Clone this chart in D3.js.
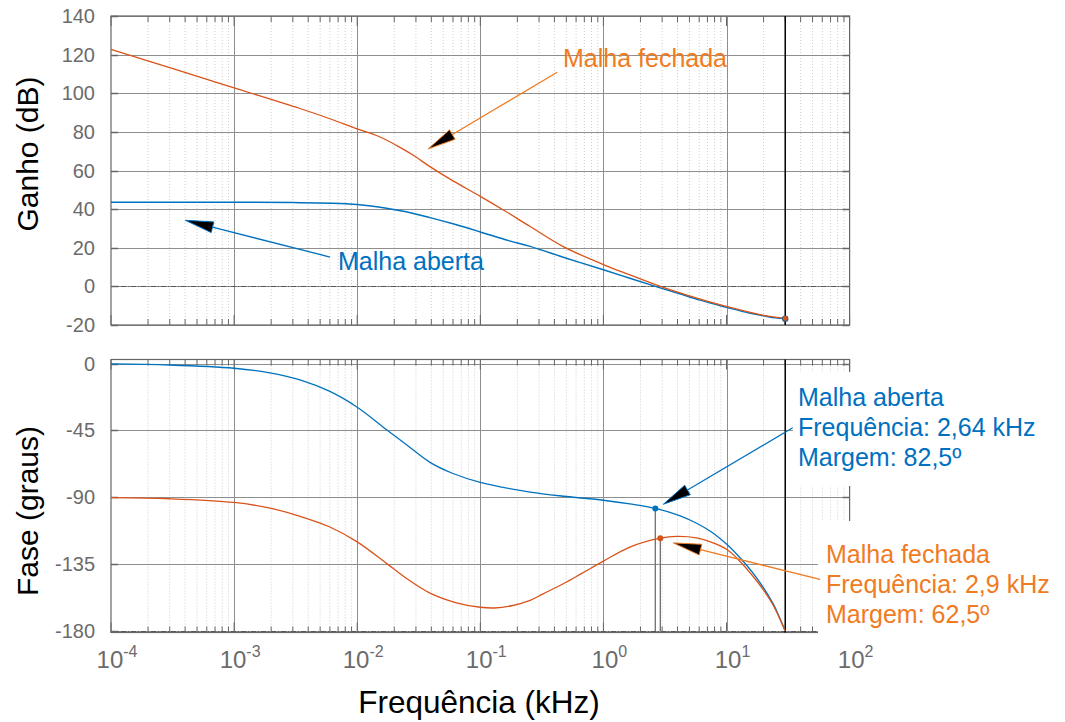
<!DOCTYPE html>
<html>
<head>
<meta charset="utf-8">
<script src="https://cdn.jsdelivr.net/npm/d3@7"></script>
<style>
  body { margin: 0; background: #fff; }
  svg { display: block; font-family: "Liberation Sans", Arial, sans-serif; }
</style>
</head>
<body>
<svg id="chart" width="1065" height="722"></svg>
<script>
// ---- Bode data (frequency in kHz) ----
const openGainFreq = [1e-4, 3e-4, 1e-3, 3e-3, 6e-3, 1e-2, 0.0173, 0.025, 0.039, 0.06, 0.1, 0.17, 0.254, 0.5, 1, 1.64, 2.64, 4.16, 6, 10, 15, 20, 25, 30];
const openGainDb   = [43.6, 43.6, 43.6, 43.4, 43.1, 42.4, 40.5, 38.6, 35.6, 32.4, 28.2, 23.7, 20.7, 14.6, 8.6, 4.2, 0, -3.8, -7.0, -10.8, -13.7, -15.2, -16.3, -16.8];

const closedGainFreq = [1e-4, 3e-4, 1e-3, 3.43e-3, 6e-3, 1e-2, 0.015, 0.021, 0.029, 0.039, 0.06, 0.1, 0.16, 0.254, 0.472, 1, 1.64, 2.9, 5, 10, 20, 30];
const closedGainDb   = [122.7, 113.3, 102.8, 92.1, 86.8, 81.5, 77.6, 72.9, 67.6, 62.0, 54.6, 46.6, 38.9, 31.0, 20.6, 11.3, 6.0, 0, -4.9, -10.4, -15.0, -16.6];

const openPhaseFreq = [1e-4, 3e-4, 1e-3, 2e-3, 3.43e-3, 6e-3, 1e-2, 0.0173, 0.025, 0.039, 0.06, 0.1, 0.254, 0.5, 1, 1.64, 2.64, 4.16, 5.72, 7.6, 10, 12.5, 17.5, 23.9, 27, 30];
const openPhaseDeg  = [-0.3, -1.0, -3.2, -6.4, -11.0, -18.8, -29.4, -44.5, -54.5, -66.5, -74.0, -80.0, -86.5, -89.5, -92.0, -94.5, -97.5, -102.3, -107.5, -113.5, -121.5, -129.5, -144.0, -161.6, -171.0, -180];

const closedPhaseFreq = [1e-4, 3e-4, 1e-3, 2e-3, 3.43e-3, 6e-3, 1e-2, 0.0173, 0.025, 0.039, 0.064, 0.1, 0.13, 0.18, 0.254, 0.324, 0.472, 0.662, 1, 1.64, 2.9, 3.94, 5.72, 7.6, 10, 12.5, 17.5, 20, 23.9, 27, 30];
const closedPhaseDeg  = [-90.3, -91.0, -93.5, -97.5, -102.8, -110.0, -120.0, -134.5, -144.5, -154.5, -161.0, -164.0, -164.5, -163.0, -159.4, -155.0, -148.2, -141.4, -133.0, -123.5, -117.5, -116.3, -117.3, -120.3, -125.0, -132.0, -146.0, -152.5, -162.5, -171.5, -180];

// crossover points stated in the annotations
const crossOpen   = { freq: 2.64, margin: 82.5 };
const crossClosed = { freq: 2.9,  margin: 62.5 };
const nyquistFreq = 30;

const gainTicks  = [-20, 0, 20, 40, 60, 80, 100, 120, 140];
const phaseTicks = [0, -45, -90, -135, -180];
const decades    = [-4, -3, -2, -1, 0, 1, 2];

// ---- colours ----
const BLUE = "#0072BD", ORANGE = "#D95319";
const BLUE_TXT = "#0070C0", ORANGE_TXT = "#EF7B22";
const GRID = "#8e8e8e", MINOR = "#cfcfcf", AXIS = "#666", TICKTXT = "#6b6b6b";

const svg = d3.select("#chart");

// ---- scales ----
const x = d3.scaleLog().domain([1e-4, 1e2]).range([111, 849.6]);
const yG = d3.scaleLinear().domain([-20, 140]).range([325, 16]);
const yP = d3.scaleLinear().domain([-181, 2.7]).range([632.5, 359.5]);

const minorFreqs = [];
decades.slice(0, -1).forEach(e => {
  for (let k = 2; k <= 9; k++) minorFreqs.push(k * Math.pow(10, e));
});
const majorFreqs = decades.map(e => Math.pow(10, e));

function panel(y, ticks, dashValue) {
  const g = svg.append("g");
  const [y0, y1] = y.range(); // bottom, top
  const [xa, xb] = x.range();
  // minor vertical grid (dotted)
  g.selectAll(".mg").data(minorFreqs).join("line")
    .attr("x1", d => x(d)).attr("x2", d => x(d))
    .attr("y1", y1).attr("y2", y0)
    .attr("stroke", MINOR).attr("stroke-width", 1).attr("stroke-dasharray", "1,2");
  // major vertical grid
  g.selectAll(".Mg").data(majorFreqs.slice(1, -1)).join("line")
    .attr("x1", d => Math.round(x(d)) + 0.5).attr("x2", d => Math.round(x(d)) + 0.5)
    .attr("y1", y1).attr("y2", y0)
    .attr("stroke", GRID).attr("stroke-width", 1);
  // horizontal grid
  g.selectAll(".hg").data(ticks).join("line")
    .attr("x1", xa).attr("x2", xb)
    .attr("y1", d => Math.round(y(d)) + 0.5).attr("y2", d => Math.round(y(d)) + 0.5)
    .attr("stroke", GRID).attr("stroke-width", 1);
  // dash-dot reference line
  g.append("line")
    .attr("x1", xa).attr("x2", xb)
    .attr("y1", Math.round(y(dashValue)) + 0.5).attr("y2", Math.round(y(dashValue)) + 0.5)
    .attr("stroke", "#555").attr("stroke-width", 1).attr("stroke-dasharray", "5,2,1,2");
  // ticks top and bottom
  const tk = [...majorFreqs.map(f => ({ f, L: 10 })), ...minorFreqs.map(f => ({ f, L: 6 }))];
  g.selectAll(".tb").data(tk).join("line")
    .attr("x1", d => x(d.f)).attr("x2", d => x(d.f))
    .attr("y1", y0).attr("y2", d => y0 - d.L)
    .attr("stroke", AXIS).attr("stroke-width", 1);
  g.selectAll(".tt").data(tk).join("line")
    .attr("x1", d => x(d.f)).attr("x2", d => x(d.f))
    .attr("y1", y1).attr("y2", d => y1 + d.L)
    .attr("stroke", AXIS).attr("stroke-width", 1);
  // y ticks left and right
  g.selectAll(".yl").data(ticks).join("line")
    .attr("x1", xa).attr("x2", xa + 7)
    .attr("y1", d => Math.round(y(d)) + 0.5).attr("y2", d => Math.round(y(d)) + 0.5)
    .attr("stroke", AXIS).attr("stroke-width", 1.5);
  g.selectAll(".yr").data(ticks).join("line")
    .attr("x1", xb).attr("x2", xb - 7)
    .attr("y1", d => Math.round(y(d)) + 0.5).attr("y2", d => Math.round(y(d)) + 0.5)
    .attr("stroke", AXIS).attr("stroke-width", 1.5);
  // frame
  g.append("rect")
    .attr("x", xa).attr("y", y1).attr("width", xb - xa).attr("height", y0 - y1)
    .attr("fill", "none").attr("stroke", AXIS).attr("stroke-width", 1.2);
  // y tick labels
  g.selectAll(".yt").data(ticks).join("text")
    .attr("x", 95).attr("y", d => y(d) + 7)
    .attr("text-anchor", "end").attr("font-size", 20).attr("fill", TICKTXT)
    .text(d => d);
  // nyquist line
  g.append("line")
    .attr("x1", x(nyquistFreq)).attr("x2", x(nyquistFreq))
    .attr("y1", y1).attr("y2", y0)
    .attr("stroke", "#000").attr("stroke-width", 1.5);
  return g;
}

const gTop = panel(yG, gainTicks, 0);
const gBot = panel(yP, phaseTicks, -180);

// ---- curves ----
const lineOf = (fs, vs, y) => d3.line().curve(d3.curveCatmullRom.alpha(0.5))
  .x(i => x(fs[i])).y(i => y(vs[i]))(d3.range(fs.length));

gTop.append("path").attr("d", lineOf(openGainFreq, openGainDb, yG))
  .attr("fill", "none").attr("stroke", BLUE).attr("stroke-width", 1.5);
gTop.append("path").attr("d", lineOf(closedGainFreq, closedGainDb, yG))
  .attr("fill", "none").attr("stroke", ORANGE).attr("stroke-width", 1.3);
gTop.append("circle").attr("cx", x(nyquistFreq)).attr("cy", yG(openGainDb[openGainDb.length - 1]))
  .attr("r", 3.2).attr("fill", "#1c5f8f");
gTop.append("circle").attr("cx", x(nyquistFreq)).attr("cy", yG(closedGainDb[closedGainDb.length - 1]))
  .attr("r", 2.4).attr("fill", ORANGE);

gBot.append("path").attr("d", lineOf(openPhaseFreq, openPhaseDeg, yP))
  .attr("fill", "none").attr("stroke", BLUE).attr("stroke-width", 1.3);
gBot.append("path").attr("d", lineOf(closedPhaseFreq, closedPhaseDeg, yP))
  .attr("fill", "none").attr("stroke", ORANGE).attr("stroke-width", 1.3);

// crossover markers with stems
[[crossOpen, BLUE], [crossClosed, ORANGE]].forEach(([c, col]) => {
  const ph = -180 + c.margin;
  gBot.append("line")
    .attr("x1", x(c.freq)).attr("x2", x(c.freq))
    .attr("y1", yP(ph)).attr("y2", yP(-180))
    .attr("stroke", "#6f6f6f").attr("stroke-width", 1.3);
  gBot.append("circle").attr("cx", x(c.freq)).attr("cy", yP(ph))
    .attr("r", 3).attr("fill", col);
});

// ---- x tick labels ----
const xl = svg.append("g");
decades.forEach(e => {
  const t = xl.append("text").attr("x", x(Math.pow(10, e)) + 6).attr("y", 668)
    .attr("text-anchor", "middle").attr("fill", TICKTXT).attr("font-size", 24);
  t.append("tspan").text("10");
  t.append("tspan").attr("dy", -11).attr("font-size", 16).text(String(e));
});

// ---- axis titles ----
svg.append("text").attr("transform", "translate(38,154) rotate(-90)")
  .attr("text-anchor", "middle").attr("font-size", 30).attr("fill", "#000").text("Ganho (dB)");
svg.append("text").attr("transform", "translate(38,511) rotate(-90)")
  .attr("text-anchor", "middle").attr("font-size", 30).attr("fill", "#000").text("Fase (graus)");
svg.append("text").attr("x", 479).attr("y", 713)
  .attr("text-anchor", "middle").attr("font-size", 31.5).attr("fill", "#000").text("Frequência (kHz)");

// ---- annotations ----
function arrow(from, to, col) {
  const [sx, sy] = from, [tx, ty] = to;
  const len = Math.hypot(sx - tx, sy - ty);
  const ux = (sx - tx) / len, uy = (sy - ty) / len;
  const L = 28, W = 5.5;
  const bx = tx + ux * L, by = ty + uy * L;
  svg.append("line").attr("x1", sx).attr("y1", sy).attr("x2", bx).attr("y2", by)
    .attr("stroke", col).attr("stroke-width", 1.3);
  svg.append("polygon")
    .attr("points", [[tx, ty], [bx - uy * W, by + ux * W], [bx + uy * W, by - ux * W]].map(p => p.join(",")).join(" "))
    .attr("fill", "#000").attr("stroke", col).attr("stroke-width", 1);
}

// white boxes behind the phase annotations
svg.append("rect").attr("x", 793).attr("y", 372).attr("width", 272).attr("height", 114).attr("fill", "#fff");
svg.append("rect").attr("x", 818).attr("y", 521).attr("width", 247).attr("height", 119).attr("fill", "#fff");

arrow([x(0.422), yG(110.9)], [x(0.0378), yG(71.2)], ORANGE_TXT);
arrow([x(0.00601), yG(15.2)], [x(4.02e-4), yG(34.2)], BLUE_TXT);
arrow([x(34.5), yP(-43.2)], [x(3.07), yP(-94.7)], BLUE_TXT);
arrow([x(57.5), yP(-145.3)], [x(3.70), yP(-120.7)], ORANGE_TXT);

svg.append("text").attr("x", 563).attr("y", 67).attr("font-size", 25).attr("fill", ORANGE_TXT).text("Malha fechada");
svg.append("text").attr("x", 338).attr("y", 270).attr("font-size", 25).attr("fill", BLUE_TXT).text("Malha aberta");

const fmt = v => String(v).replace(".", ",");
const blueLines = ["Malha aberta", `Frequência: ${fmt(crossOpen.freq)} kHz`, `Margem: ${fmt(crossOpen.margin)}º`];
const orangeLines = ["Malha fechada", `Frequência: ${fmt(crossClosed.freq)} kHz`, `Margem: ${fmt(crossClosed.margin)}º`];
blueLines.forEach((s, i) => svg.append("text").attr("x", 798).attr("y", 406 + i * 30)
  .attr("font-size", 25).attr("fill", BLUE_TXT).text(s));
orangeLines.forEach((s, i) => svg.append("text").attr("x", 826).attr("y", 563 + i * 30)
  .attr("font-size", 25).attr("fill", ORANGE_TXT).text(s));
</script>
</body>
</html>
